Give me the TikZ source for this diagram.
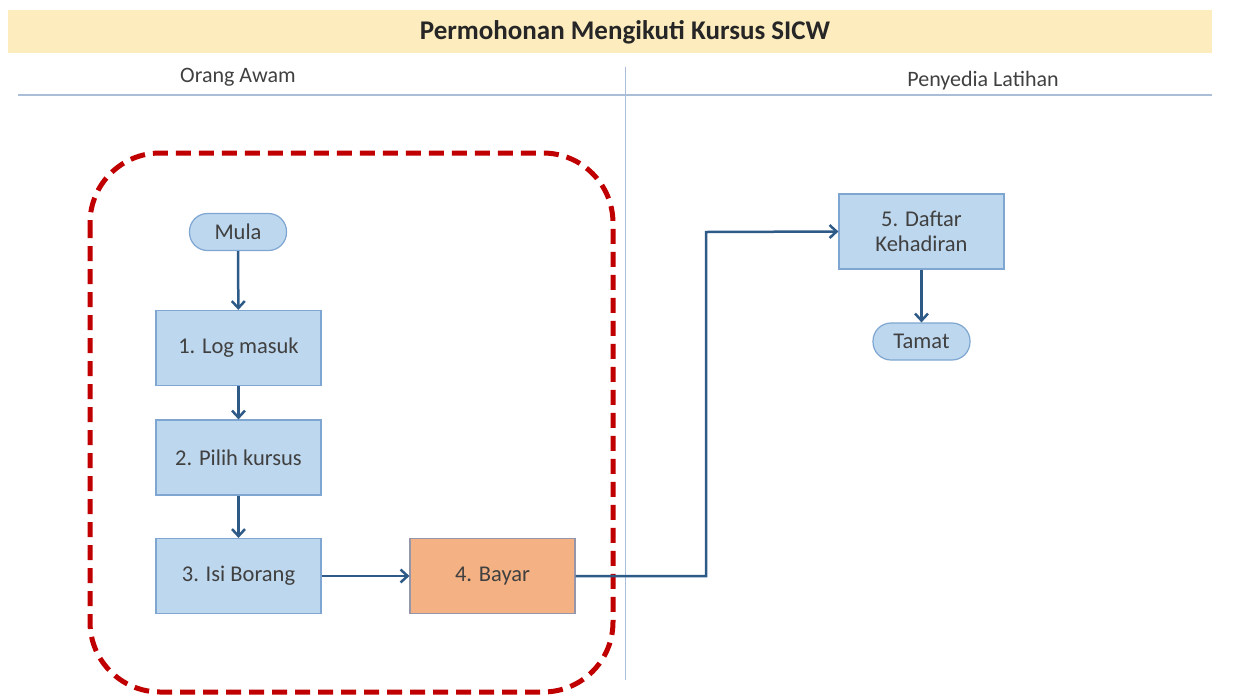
\documentclass[tikz,border=0pt]{standalone}
\usepackage{fontspec}
\setmainfont{Carlito}
\usetikzlibrary{arrows.meta}
\definecolor{band}{RGB}{252,236,190}
\definecolor{boxfill}{RGB}{189,215,238}
\definecolor{boxline}{RGB}{126,166,208}
\definecolor{orangefill}{RGB}{244,177,131}
\definecolor{orangeline}{RGB}{150,150,170}
\definecolor{arrowcol}{RGB}{46,90,135}
\definecolor{txt}{RGB}{64,64,64}
\definecolor{lanecol}{RGB}{170,190,215}
\definecolor{dashred}{RGB}{192,0,0}
\tikzset{
  procbox/.style={draw=boxline, fill=boxfill, line width=1.2pt, minimum width=165pt, minimum height=75pt, align=center, text=txt, font=\fontsize{22.5}{25}\selectfont},
  pill/.style={draw=boxline, fill=boxfill, line width=1.2pt, rounded corners=18pt, minimum width=97pt, minimum height=37pt, text=txt, font=\fontsize{22.5}{25}\selectfont},
  flow/.style={draw=arrowcol, line width=2.5pt, -{Straight Barb[length=7pt,width=13pt]}},
  lanetxt/.style={text=txt, font=\fontsize{22}{25}\selectfont}
}
\begin{document}
\begin{tikzpicture}[x=1pt,y=-1pt]
\useasboundingbox (0,0) rectangle (1235,697);
% title band
\fill[band] (8,10) rectangle (1212,53);
\node[font=\bfseries\fontsize{27}{30}\selectfont, text=black!85] (title) at (625,32) {Permohonan Mengikuti Kursus SICW};
% lanes
\node[lanetxt] (lane1) at (238,77) {Orang Awam};
\node[lanetxt] (lane2) at (983,81) {Penyedia Latihan};
\draw[lanecol, line width=2pt] (18,95) -- (1212,95);
\draw[lanecol, line width=0.9pt] (625,67) -- (625,680);
% dashed boundary
\draw[dashred, line width=5pt, dash pattern=on 15pt off 8pt, rounded corners=70pt] (90,153) rectangle (613,692);
% nodes
\node[pill] (mula) at (238,232) {Mula};
\node[procbox] (s1) at (238.5,348) {1. Log masuk};
\node[procbox] (s2) at (238.5,457.5) {2. Pilih kursus};
\node[procbox] (s3) at (238.5,576) {3. Isi Borang};
\node[procbox, fill=orangefill, draw=orangeline] (s4) at (492.5,576) {4. Bayar};
\node[procbox] (s5) at (921.5,231.5) {5. Daftar\\Kehadiran};
\node[pill] (tamat) at (921.5,341.5) {Tamat};
\coordinate (bend1) at (706,576);
\coordinate (bend2) at (706,232);
% connectors
\draw[flow] (mula) -- (s1);
\draw[flow] (s1) -- (s2);
\draw[flow] (s2) -- (s3);
\draw[flow] (s3) -- (s4);
\draw[flow] (s4.east) -- (bend1) -- (bend2) -- (s5.west);
\draw[flow] (s5) -- (tamat);
\end{tikzpicture}
\end{document}
